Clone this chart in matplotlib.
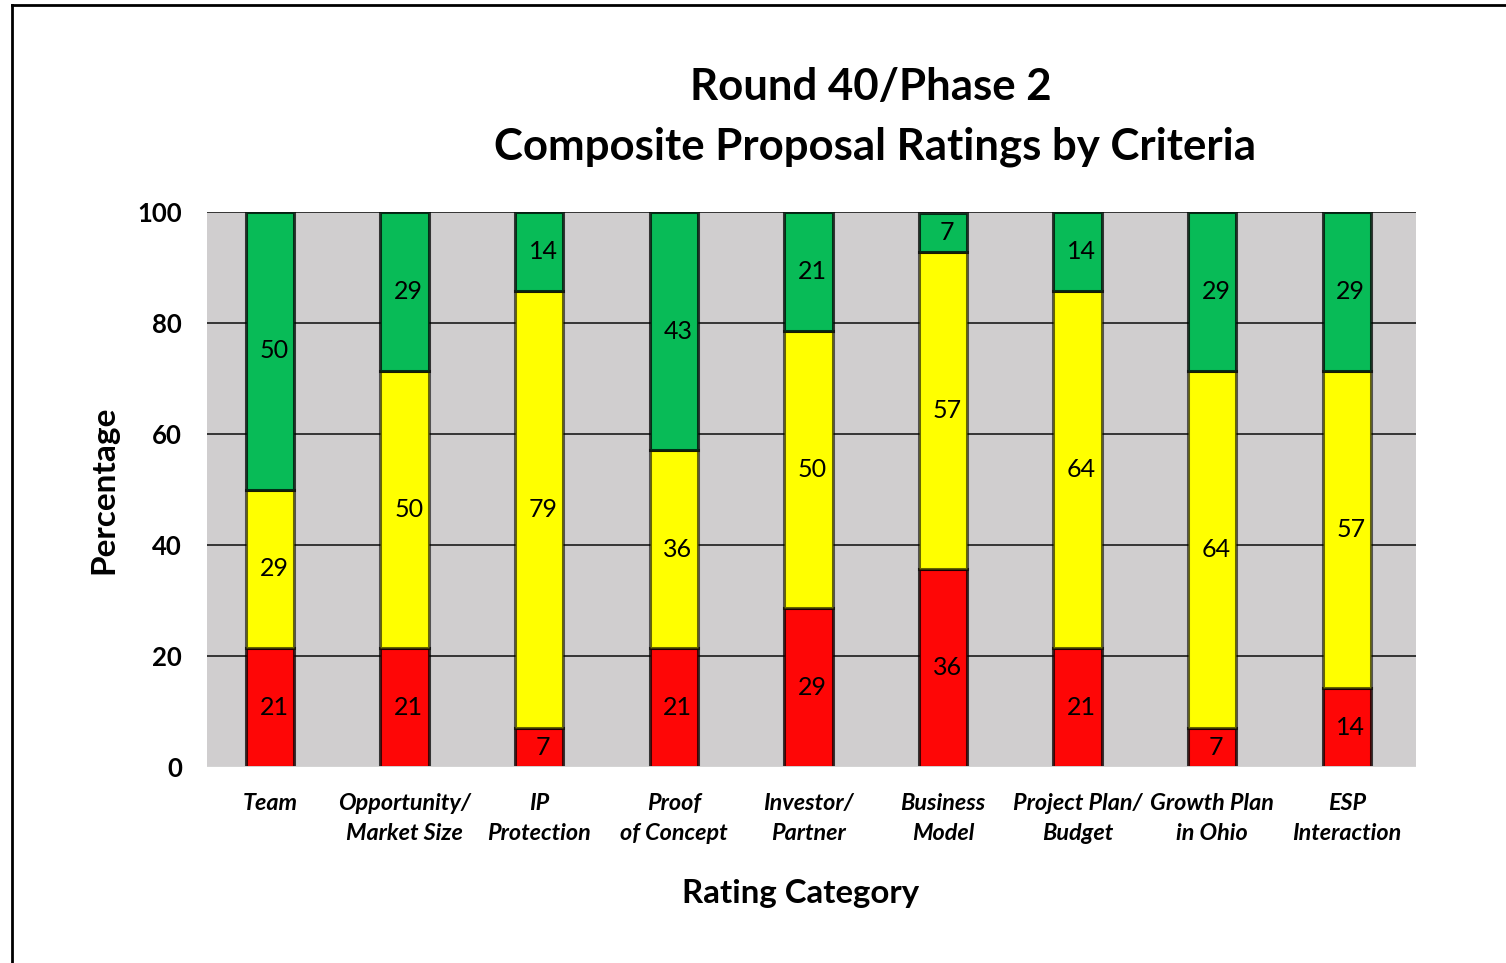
import numpy as np
import matplotlib.pyplot as plt
from matplotlib.lines import Line2D

#------------------------------------------------------------
categories = ["Team", "Opportunity/\nMarket Size", "IP\nProtection", "Proof\nof Concept",
              "Investor/\nPartner", "Business\nModel", "Project Plan/\nBudget",
              "Growth Plan\nin Ohio", "ESP\nInteraction"]
red_pct = [21.4, 21.4, 7.1, 21.4, 28.6, 35.7, 21.4, 7.1, 14.3]
yellow_pct = [28.6, 50.0, 78.6, 35.7, 50.0, 57.1, 64.3, 64.3, 57.1]
green_pct = [50.0, 28.6, 14.3, 42.9, 21.4, 7.1, 14.3, 28.6, 28.6]
yticks = [0, 20, 40, 60, 80, 100]

plt.rcParams['font.family'] = ['Lato', 'DejaVu Sans']

fig = plt.figure(figsize=(15.06, 9.63), dpi=100)
ax = fig.add_axes([207/1506, 1 - 767/963, (1416 - 207)/1506, (767 - 212)/963])
ax.set_facecolor('#d0cecf')

x = np.arange(len(categories)) + 0.5
w = 0.36
red = np.array(red_pct)
yellow = np.array(yellow_pct)
green = np.array(green_pct)

#Stacked segments, bottom to top.
#----
b1 = ax.bar(x, red, w, color='#fe0606', edgecolor=(0, 0, 0, 0.75), linewidth=2.2, zorder=3)
b2 = ax.bar(x, yellow, w, bottom=red, color='#ffff00', edgecolor=(0, 0, 0, 0.6), linewidth=2.2, zorder=3)
b3 = ax.bar(x, green, w, bottom=red + yellow, color='#08bb57', edgecolor=(0, 0, 0, 0.75), linewidth=2.2, zorder=3)

for bars, vals, base in [(b1, red, 0 * red), (b2, yellow, red), (b3, green, red + yellow)]:
    for xi, v, b in zip(x, vals, base):
        ax.text(xi + 0.03, b + v / 2, "%.0f" % v, ha='center', va='center', fontsize=18, zorder=4)

ax.set_xlim(0.032, 9.014)
ax.set_ylim(0, 100)
ax.set_yticks(yticks)
ax.set_yticklabels([str(t) for t in yticks], fontsize=18.5, fontweight='bold')
ax.yaxis.grid(True, color='#1a1a1a', linewidth=1.2, zorder=1)
ax.tick_params(axis='y', length=0, pad=18)
ax.set_xticks(x)
ax.set_xticklabels(categories, fontsize=16.8, fontweight='bold', style='italic', linespacing=1.5)
ax.tick_params(axis='x', length=0, pad=19)
for s in ax.spines.values():
    s.set_visible(False)
ax.axhline(0, color='#e8e8e8', linewidth=2, zorder=5)

ax.set_ylabel("Percentage", fontsize=24, fontweight='bold', labelpad=14)
fig.text(801/1506, 1 - 893/963, "Rating Category", ha='center', va='center', fontsize=23.8, fontweight='bold')

fig.text(871/1506, 1 - 87/963, "Round 40/Phase 2", ha='center', va='center', fontsize=31.5, fontweight='bold')
fig.text(875/1506, 1 - 147/963, "Composite Proposal Ratings by Criteria", ha='center', va='center', fontsize=31.5, fontweight='bold')

#outer frame
fig.add_artist(Line2D([12/1506, 12/1506], [0, 1 - 5/963], color='black', linewidth=2, transform=fig.transFigure))
fig.add_artist(Line2D([12/1506, 1], [1 - 5/963, 1 - 5/963], color='black', linewidth=2, transform=fig.transFigure))

plt.savefig('out.png', dpi=100)
